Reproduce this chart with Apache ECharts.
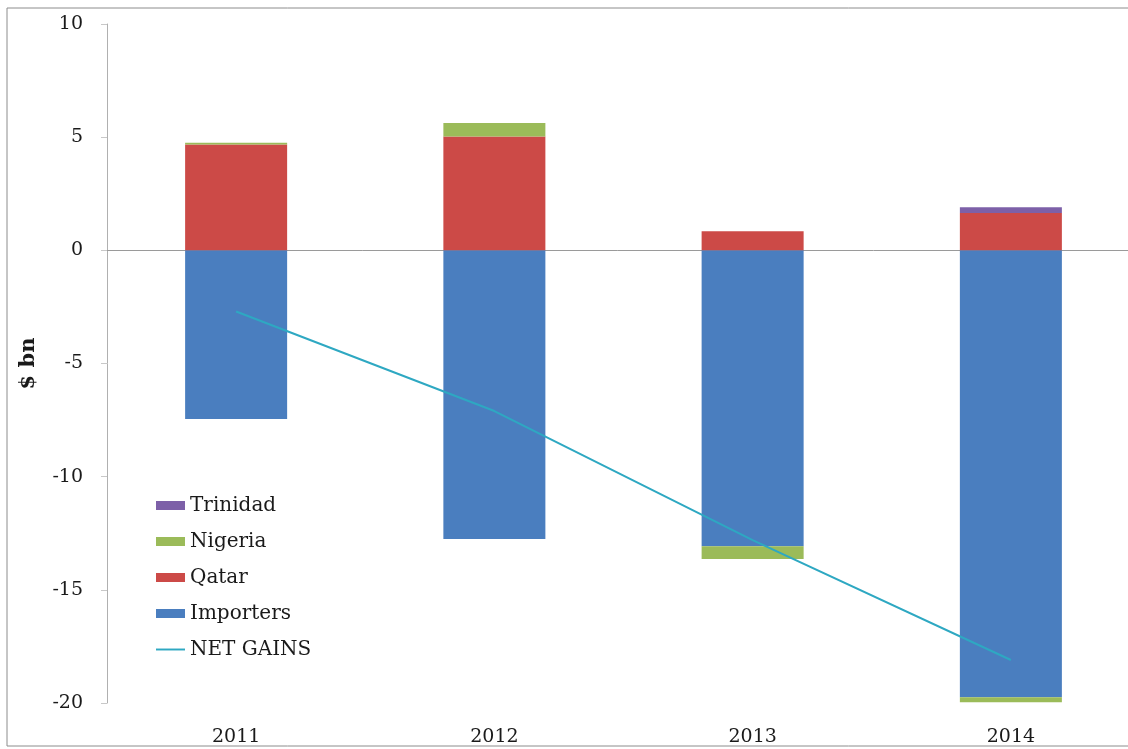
<!DOCTYPE html>
<html>
<head>
<meta charset="utf-8">
<script src="https://cdn.jsdelivr.net/npm/echarts@6/dist/echarts.min.js"></script>
<style>
  html, body { margin: 0; padding: 0; background: #fff; }
  #chart { width: 1128px; height: 749px; }
</style>
</head>
<body>
<div id="chart"></div>
<script>
  // values, $ bn
  var years = ['2011', '2012', '2013', '2014'];
  var importers = [-7.45, -12.75, -13.07, -19.75];
  var qatar = [4.68, 5.03, 0.84, 1.65];
  var nigeria = [0.07, 0.6, -0.57, -0.22];
  var trinidad = [0, 0, 0, 0.25];
  var netGains = [-2.7, -7.1, -12.8, -18.1];

  var serif = 'DejaVu Serif';
  var chart = echarts.init(document.getElementById('chart'));

  var option = {
    backgroundColor: '#fff',
    animation: false,
    graphic: [{
      type: 'rect',
      shape: { x: 7, y: 8, width: 1140, height: 738 },
      style: { fill: 'none', stroke: '#8c8c8c', lineWidth: 1 },
      silent: true
    }],
    grid: {
      left: 107,
      top: 24,
      width: 1033,
      height: 679,
      outerBoundsMode: 'none',
      containLabel: false
    },
    legend: {
      orient: 'vertical',
      left: 151,
      top: 488,
      itemWidth: 29,
      itemHeight: 9,
      itemGap: 11,
      textStyle: { fontFamily: serif, fontSize: 20, color: '#1a1a1a', lineHeight: 25 },
      data: [
        { name: 'Trinidad', icon: 'rect' },
        { name: 'Nigeria', icon: 'rect' },
        { name: 'Qatar', icon: 'rect' },
        { name: 'Importers', icon: 'rect' },
        { name: 'NET GAINS', icon: 'path://M0,0 L30,0 L30,2 L0,2 Z' }
      ]
    },
    xAxis: [
      {
        type: 'category',
        data: years,
        position: 'bottom',
        axisLine: { show: false, onZero: false },
        axisTick: { show: false },
        axisLabel: {
          margin: 25,
          fontFamily: serif,
          fontSize: 19,
          color: '#1a1a1a'
        }
      },
      {
        type: 'category',
        data: years,
        position: 'bottom',
        axisLine: { show: true, onZero: true, lineStyle: { color: '#9a9a9a', width: 1 } },
        axisTick: { show: false },
        axisLabel: { show: false }
      }
    ],
    yAxis: {
      type: 'value',
      min: -20,
      max: 10,
      interval: 5,
      name: '$ bn',
      nameLocation: 'middle',
      nameGap: 68,
      nameRotate: 90,
      nameTextStyle: { fontFamily: serif, fontSize: 21, fontWeight: 'bold', color: '#1a1a1a' },
      splitLine: { show: false },
      axisLine: { show: true, lineStyle: { color: '#b0b0b0' } },
      axisTick: { show: true, length: 6, lineStyle: { color: '#c8c8c8' } },
      axisLabel: {
        margin: 24,
        fontFamily: serif,
        fontSize: 19,
        color: '#1a1a1a'
      }
    },
    series: [
      {
        name: 'Importers',
        type: 'bar',
        stack: 'a',
        barWidth: '39.5%',
        data: importers,
        itemStyle: { color: '#4a7ebf' }
      },
      {
        name: 'Qatar',
        type: 'bar',
        stack: 'a',
        data: qatar,
        itemStyle: { color: '#cc4a47' }
      },
      {
        name: 'Nigeria',
        type: 'bar',
        stack: 'a',
        data: nigeria,
        itemStyle: { color: '#9bbb59' }
      },
      {
        name: 'Trinidad',
        type: 'bar',
        stack: 'a',
        data: trinidad,
        itemStyle: { color: '#7d60a8' }
      },
      {
        name: 'NET GAINS',
        type: 'line',
        data: netGains,
        symbol: 'none',
        z: 5,
        lineStyle: { color: '#2ea8c2', width: 2 },
        itemStyle: { color: '#2ea8c2' }
      }
    ]
  };

  chart.setOption(option);
</script>
</body>
</html>
